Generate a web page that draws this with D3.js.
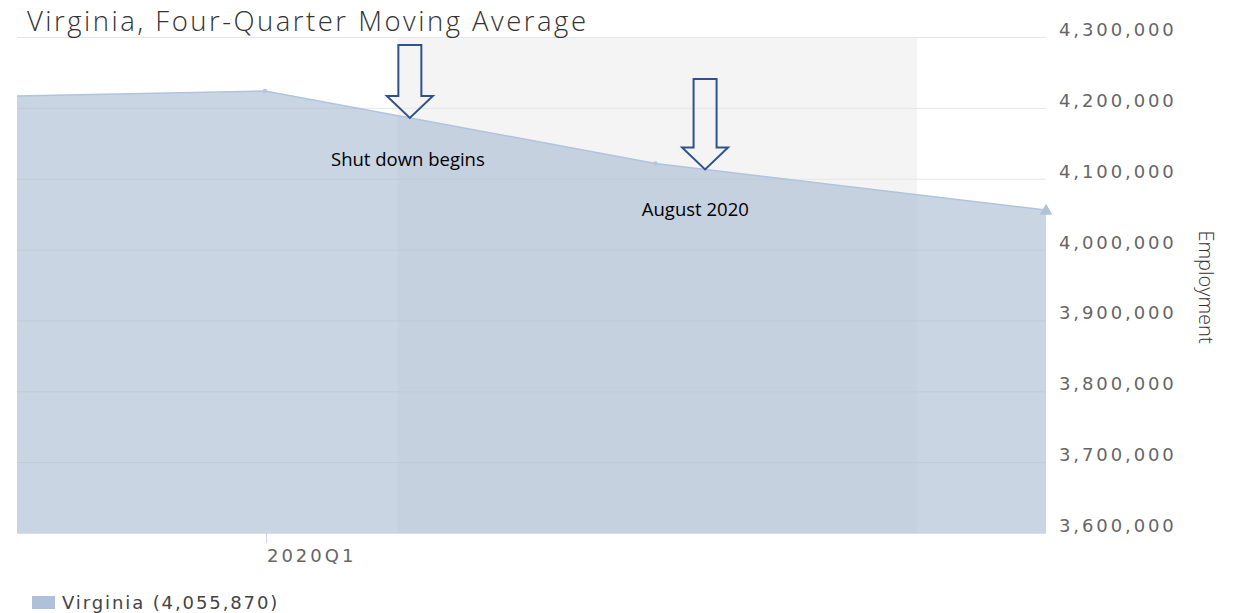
<!DOCTYPE html>
<html>
<head>
<meta charset="utf-8">
<script src="https://cdn.jsdelivr.net/npm/d3@7"></script>
<style>
  body { margin: 0; background: #fff; }
  svg { display: block; }
  .tick-label { font-family: "DejaVu Sans", sans-serif; font-size: 18px; fill: #666; letter-spacing: 2.9px; }
  .note { font-family: "Open Sans", "Liberation Sans", sans-serif; font-size: 18.5px; fill: #000; }
</style>
</head>
<body>
<div id="chart"></div>
<script>
// quarters, index 0 = 2019Q4 (off the left edge)
var quarters = ["2019Q4", "2020Q1", "2020Q2", "2020Q3"];
var employment = [4212600, 4223800, 4121500, 4055870];
var yTicks = [3600000, 3700000, 3800000, 3900000, 4000000, 4100000, 4200000, 4300000];
var xTickLabels = ["2020Q1"];
var bandRange = [1.34, 2.67];      // shaded period, in quarter index
var notes = [
    { label: "Shut down begins", at: 1.371, textAt: 1.366, textY: 4126400 },
    { label: "August 2020", at: 2.127, textAt: 2.102, textY: 4055850 }
];

var width = 1238, height = 613;
var margin = { left: 17, right: 192, top: 37, bottom: 80 };

var svg = d3.select('#chart').append('svg')
    .attr('width', width)
    .attr('height', height);

var x = d3.scaleLinear()
    .domain([0.365, 3])
    .range([margin.left, width - margin.right]);
var y = d3.scaleLinear()
    .domain([3600000, 4300000])
    .range([height - margin.bottom, margin.top]);

var plot = svg.append('g');
svg.append('clipPath').attr('id', 'plotclip')
    .append('rect')
    .attr('x', x.range()[0]).attr('y', 0)
    .attr('width', x.range()[1] - x.range()[0] + 8)
    .attr('height', y.range()[0]);

// plot band
plot.append('rect')
    .attr('x', x(bandRange[0]))
    .attr('y', y(4300000))
    .attr('width', x(bandRange[1]) - x(bandRange[0]))
    .attr('height', y(3600000) - y(4300000))
    .attr('fill', '#f4f4f4');

// gridlines
plot.selectAll('.grid').data(yTicks).enter().append('line')
    .attr('x1', x.range()[0]).attr('x2', x.range()[1])
    .attr('y1', function(d) { return y(d) + 0.5; })
    .attr('y2', function(d) { return y(d) + 0.5; })
    .attr('stroke', '#e6e6e6');

var pts = employment.map(function(v, i) { return [i, v]; });

var area = d3.area()
    .x(function(d) { return x(d[0]); })
    .y0(y(3600000))
    .y1(function(d) { return y(d[1]); });
var line = d3.line()
    .x(function(d) { return x(d[0]); })
    .y(function(d) { return y(d[1]); });

var series = plot.append('g').attr('clip-path', 'url(#plotclip)');
series.append('path')
    .datum(pts)
    .attr('d', area)
    .attr('fill', '#a6b9d0')
    .attr('fill-opacity', 0.6);
series.append('path')
    .datum(pts)
    .attr('d', line)
    .attr('fill', 'none')
    .attr('stroke', '#b0c4de')
    .attr('stroke-width', 1.5);

// little point markers
series.selectAll('.dot').data(pts.slice(1, 3)).enter().append('circle')
    .attr('cx', function(d) { return x(d[0]); })
    .attr('cy', function(d) { return y(d[1]); })
    .attr('r', 2.2)
    .attr('fill', '#b4c6de');

// last point triangle
var last = pts[pts.length - 1];
svg.append('path')
    .attr('d', d3.symbol().type(d3.symbolTriangle).size(70))
    .attr('transform', 'translate(' + x(last[0]) + ',' + (y(last[1]) + 1) + ')')
    .attr('fill', '#aec2dc');

// bottom axis line
svg.append('line')
    .attr('x1', x.range()[0]).attr('x2', x.range()[1])
    .attr('y1', y(3600000) + 0.5).attr('y2', y(3600000) + 0.5)
    .attr('stroke', '#d5deea');

// x tick
xTickLabels.forEach(function(lab) {
    var xi = quarters.indexOf(lab);
    svg.append('line')
        .attr('x1', x(xi) + 1.5).attr('x2', x(xi) + 1.5)
        .attr('y1', y(3600000)).attr('y2', y(3600000) + 10)
        .attr('stroke', '#ccd6eb');
    svg.append('text')
        .attr('class', 'tick-label')
        .style('letter-spacing', '3px')
        .attr('x', x(xi) + 2)
        .attr('y', y(3600000) + 29)
        .text(lab);
});

// y tick labels on right
svg.selectAll('.ylab').data(yTicks).enter().append('text')
    .attr('class', 'tick-label')
    .attr('x', 1059)
    .attr('y', function(d) { return y(d) - 1; })
    .text(function(d) { return d3.format(',')(d); });

// axis title
svg.append('text')
    .attr('transform', 'translate(1199,287) rotate(90)')
    .attr('text-anchor', 'middle')
    .style('font-family', '"Open Sans", sans-serif')
    .style('font-weight', 300)
    .style('font-size', '20px')
    .style('fill', '#333')
    .text('Employment');

// title
svg.append('text')
    .attr('x', 27)
    .attr('y', 31)
    .attr('textLength', 559)
    .attr('lengthAdjust', 'spacing')
    .style('font-family', '"Open Sans", sans-serif')
    .style('font-weight', 300)
    .style('font-size', '27.5px')
    .style('fill', '#333')
    .text('Virginia, Four-Quarter Moving Average');

// arrows + notes
var arrowTops = [45, 79];
notes.forEach(function(n, i) {
    var tx = x(n.at);
    var ty = y(d3.interpolateNumber(employment[Math.floor(n.at)], employment[Math.ceil(n.at)])(n.at % 1));
    var top = arrowTops[i];
    var sw = 11.5, hw = 23, hh = 22;
    var d = 'M' + (tx - sw) + ',' + top +
        'L' + (tx + sw) + ',' + top +
        'L' + (tx + sw) + ',' + (ty - hh) +
        'L' + (tx + hw) + ',' + (ty - hh) +
        'L' + tx + ',' + ty +
        'L' + (tx - hw) + ',' + (ty - hh) +
        'L' + (tx - sw) + ',' + (ty - hh) + 'Z';
    svg.append('path')
        .attr('d', d)
        .attr('fill', 'none')
        .attr('stroke', '#2f528f')
        .attr('stroke-width', 2);
    svg.append('text')
        .attr('class', 'note')
        .attr('x', x(n.textAt))
        .attr('y', y(n.textY) + 6)
        .attr('text-anchor', 'middle')
        .text(n.label);
});

// legend
svg.append('rect')
    .attr('x', 32).attr('y', 596)
    .attr('width', 23).attr('height', 13)
    .attr('fill', '#aec0da');
svg.append('text')
    .attr('x', 62)
    .attr('y', 609)
    .style('font-family', '"DejaVu Sans", sans-serif')
    .style('font-size', '18px')
    .style('letter-spacing', '1.9px')
    .style('fill', '#444')
    .text('Virginia (' + d3.format(',')(last[1]) + ')');
</script>
</body>
</html>
